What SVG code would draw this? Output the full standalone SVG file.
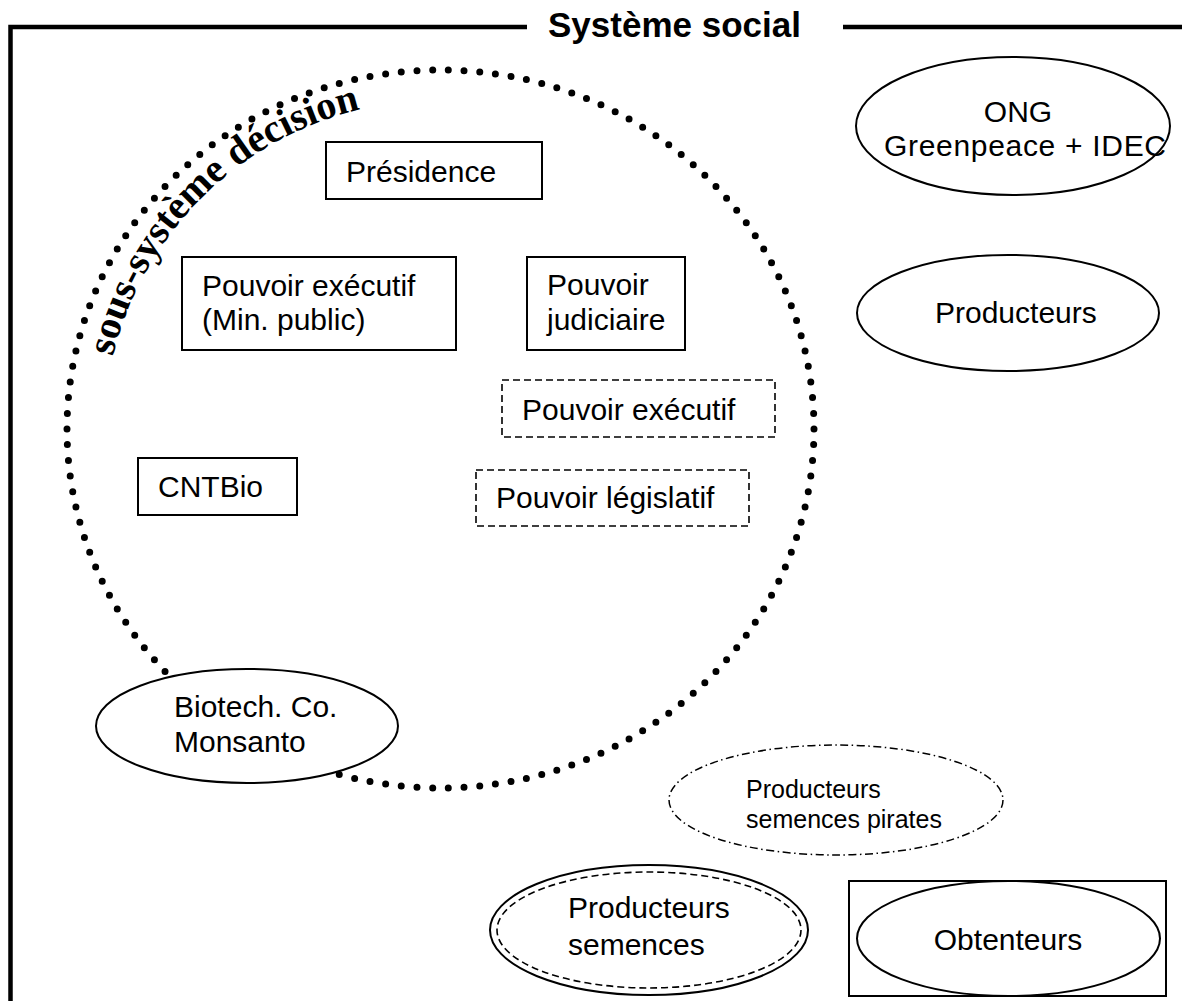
<svg xmlns="http://www.w3.org/2000/svg" width="1182" height="1001" viewBox="0 0 1182 1001">
  <defs>
    <style>
      .t { font-family: "Liberation Sans", Arial, sans-serif; font-size: 30px; fill: #000; }
      .sm { font-size: 25px; }
      .title { font-family: "Liberation Sans", Arial, sans-serif; font-size: 35px; font-weight: bold; fill: #000; }
      .arc { font-family: "Liberation Serif", "Times New Roman", serif; font-size: 40px; font-weight: bold; fill: #000; }
      .box { fill: #fff; stroke: #000; stroke-width: 2; }
      .dbox { fill: #fff; stroke: #000; stroke-width: 1.6; stroke-dasharray: 7 4; }
      .ell { fill: #fff; stroke: #000; stroke-width: 2; }
      .frame { fill: none; stroke: #000; stroke-width: 4.5; stroke-linejoin: miter; }
      .dots { fill: none; stroke: #000; stroke-width: 7; stroke-linecap: round; stroke-dasharray: 0 1; }
    </style>
    <path id="arcPath" d="M 104.8 405.7 A 335 335 0 0 1 409.3 101.2"/>
  </defs>
  <rect width="1182" height="1001" fill="#fff"/>

  <g id="systeme-social">
    <path class="frame" d="M 527 27 H 10.5 V 1001"/>
    <path class="frame" d="M 843 27 H 1182"/>
    <text class="title" x="548" y="37">Système social</text>
  </g>

  <g id="sous-systeme-decision">
    <path class="dots" pathLength="146" d="M 67 429 A 373.5 359 0 1 1 814 429 A 373.5 359 0 1 1 67 429 Z"/>
    <text class="arc"><textPath href="#arcPath" startOffset="50">sous-système décision</textPath></text>
  </g>

  <g id="presidence">
    <rect class="box" x="326" y="142" width="216" height="57"/>
    <text class="t" x="346" y="182">Présidence</text>
  </g>

  <g id="pouvoir-executif-min">
    <rect class="box" x="182" y="257" width="274" height="93"/>
    <text class="t" x="202" y="296">Pouvoir exécutif</text>
    <text class="t" x="202" y="330">(Min. public)</text>
  </g>

  <g id="pouvoir-judiciaire">
    <rect class="box" x="527" y="257" width="158" height="93"/>
    <text class="t" x="547" y="295">Pouvoir</text>
    <text class="t" x="547" y="330">judiciaire</text>
  </g>

  <g id="pouvoir-executif">
    <rect class="dbox" x="502" y="380" width="273" height="57"/>
    <text class="t" x="522" y="420">Pouvoir exécutif</text>
  </g>

  <g id="pouvoir-legislatif">
    <rect class="dbox" x="476" y="470" width="273" height="56"/>
    <text class="t" x="496" y="508">Pouvoir législatif</text>
  </g>

  <g id="cntbio">
    <rect class="box" x="138" y="458" width="159" height="57"/>
    <text class="t" x="158" y="497">CNTBio</text>
  </g>

  <g id="biotech">
    <ellipse class="ell" cx="247" cy="726" rx="151" ry="57"/>
    <text class="t" x="174" y="717">Biotech. Co.</text>
    <text class="t" x="174" y="752">Monsanto</text>
  </g>

  <g id="ong">
    <ellipse class="ell" cx="1013" cy="126" rx="157" ry="69"/>
    <text class="t" x="1018" y="122" text-anchor="middle">ONG</text>
    <text class="t" x="884" y="156" textLength="282" lengthAdjust="spacing">Greenpeace + IDEC</text>
  </g>

  <g id="producteurs">
    <ellipse class="ell" cx="1008" cy="313" rx="151" ry="58"/>
    <text class="t" x="935" y="323">Producteurs</text>
  </g>

  <g id="producteurs-pirates">
    <ellipse cx="836" cy="800" rx="167" ry="55" fill="#fff" stroke="#000" stroke-width="1.5" stroke-dasharray="8 3.5 1.5 3.5"/>
    <text class="t sm" x="746" y="798">Producteurs</text>
    <text class="t sm" x="746" y="828">semences pirates</text>
  </g>

  <g id="producteurs-semences">
    <ellipse class="ell" cx="649" cy="930" rx="159" ry="65"/>
    <ellipse cx="649" cy="930" rx="152" ry="58" fill="none" stroke="#000" stroke-width="1.6" stroke-dasharray="7 4"/>
    <text class="t" x="568" y="918">Producteurs</text>
    <text class="t" x="568" y="955">semences</text>
  </g>

  <g id="obtenteurs">
    <rect class="box" x="849" y="881" width="317" height="115"/>
    <ellipse class="ell" cx="1008.5" cy="938.5" rx="151.5" ry="57.5"/>
    <text class="t" x="1008" y="950" text-anchor="middle">Obtenteurs</text>
  </g>

  <g id="connectors"></g>
</svg>
